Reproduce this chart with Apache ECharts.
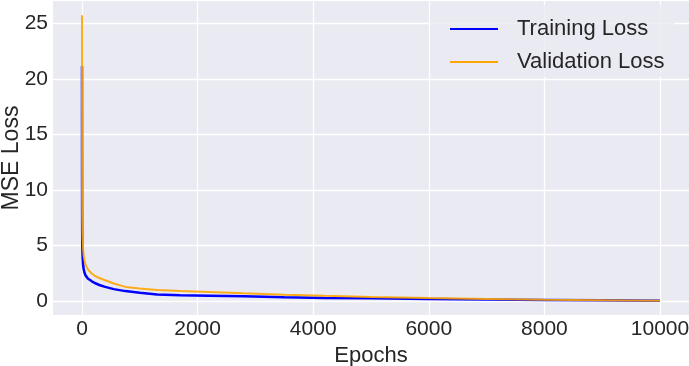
<!DOCTYPE html>
<html>
<head>
<meta charset="utf-8">
<script src="https://cdn.jsdelivr.net/npm/echarts@6/dist/echarts.min.js"></script>
<style>
	html, body { margin: 0; padding: 0; background: #fff; }
	#chart { width: 689px; height: 366px; }
</style>
</head>
<body>
<div id="chart"></div>
<script>
// 数据
const epochs = [0, 1, 2, 3, 5, 8, 12, 20, 30, 45, 60, 80, 100, 130, 170, 220, 300, 400, 550, 750, 1000, 1300, 1700, 2200, 2800, 3500, 4200, 5000, 6000, 7000, 8000, 9000, 10000];
const trainLoss = [21.1, 11.3, 8.0, 6.4, 5.2, 4.4, 3.8, 3.2, 2.8, 2.5, 2.3, 2.15, 2.0, 1.9, 1.75, 1.6, 1.42, 1.25, 1.05, 0.87, 0.72, 0.57, 0.5, 0.46, 0.4, 0.32, 0.26, 0.22, 0.17, 0.12, 0.08, 0.04, 0.01];
const valLoss = [25.7, 17.0, 12.0, 9.5, 7.5, 6.3, 5.5, 4.6, 4.0, 3.6, 3.3, 3.05, 2.85, 2.65, 2.45, 2.25, 2.05, 1.85, 1.55, 1.25, 1.1, 0.97, 0.88, 0.79, 0.67, 0.55, 0.45, 0.35, 0.25, 0.17, 0.1, 0.05, 0.01];
const xTicks = { min: 0, max: 10000, step: 2000 };
const yTicks = { min: 0, max: 25, step: 5 };

const font = "'Liberation Sans', Arial, sans-serif";
const textColor = "#262626";

let chart = echarts.init(document.getElementById("chart"), null, { renderer: "canvas" });

const pairs = (ys) => epochs.map((e, i) => [e, ys[i]]);

let option = {
	animation: false,
	textStyle: { fontFamily: font },
	grid: [
		// 背景
		{ left: 53, right: 0, top: 1, bottom: 51, show: true, backgroundColor: "#EAEAF2", borderWidth: 0, outerBoundsMode: "none" },
		// 横向网格线 + y 轴刻度
		{ left: 53, right: 0, top: 23.3, bottom: 65, outerBoundsMode: "none" },
		// 数据 + 纵向网格线 + x 轴刻度
		{ left: 82, right: 29, top: 1, bottom: 51, outerBoundsMode: "none" },
	],
	legend: {
		data: ["Training Loss", "Validation Loss"],
		orient: "vertical",
		left: 430,
		top: 5,
		padding: [13, 10, 4, 20],
		itemGap: 11,
		itemWidth: 48,
		itemHeight: 2,
		icon: "rect",
		backgroundColor: "rgba(234,234,242,0.8)",
		borderRadius: 4,
		textStyle: {
			fontFamily: font,
			fontSize: 22,
			color: textColor,
			lineHeight: 22,
			padding: [0, 0, 0, 14],
		},
	},
	xAxis: [
		{
			gridIndex: 0, type: "value", min: 0, max: 1,
			axisLine: { show: false }, axisTick: { show: false }, axisLabel: { show: false }, splitLine: { show: false },
		},
		{ gridIndex: 1, type: "value", min: 0, max: 1, show: false },
		{
			gridIndex: 2,
			type: "value",
			min: xTicks.min,
			max: xTicks.max,
			interval: xTicks.step,
			name: "Epochs",
			nameLocation: "middle",
			nameGap: 24,
			nameTextStyle: { fontSize: 22, color: textColor, fontFamily: font, lineHeight: 22 },
			axisLine: { show: false },
			axisTick: { show: false },
			axisLabel: { fontSize: 21, color: textColor, margin: 4, fontFamily: font, formatter: (v) => String(v) },
			splitLine: { lineStyle: { color: "#ffffff", width: 1.3 } },
		},
	],
	yAxis: [
		{
			gridIndex: 0, type: "value", min: 0, max: 1,
			name: "MSE Loss",
			nameLocation: "middle",
			nameGap: 30,
			nameTextStyle: { fontSize: 23, color: textColor, fontFamily: font, lineHeight: 23 },
			axisLine: { show: false }, axisTick: { show: false }, axisLabel: { show: false }, splitLine: { show: false },
		},
		{
			gridIndex: 1,
			type: "value",
			min: yTicks.min,
			max: yTicks.max,
			interval: yTicks.step,
			axisLine: { show: false },
			axisTick: { show: false },
			axisLabel: { fontSize: 21, color: textColor, margin: 5, fontFamily: font },
			splitLine: { lineStyle: { color: "#ffffff", width: 1.3 } },
		},
		{ gridIndex: 2, type: "value", min: -1.28, max: 26.98, show: false },
	],
	series: [
		{
			name: "Training Loss",
			type: "line",
			xAxisIndex: 2,
			yAxisIndex: 2,
			data: pairs(trainLoss),
			showSymbol: false,
			color: "#0000ff",
			lineStyle: { width: 2.5, color: "#0000ff" },
		},
		{
			name: "Validation Loss",
			type: "line",
			xAxisIndex: 2,
			yAxisIndex: 2,
			data: pairs(valLoss),
			showSymbol: false,
			color: "#ffa500",
			lineStyle: { width: 2, color: "#ffa500", opacity: 0.9 },
		},
	],
};

chart.setOption(option);
</script>
</body>
</html>
